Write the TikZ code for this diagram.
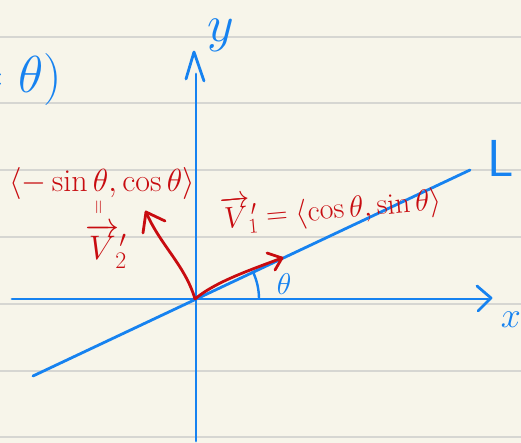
\RequirePackage{fix-cm}
\documentclass[tikz,border=0pt]{standalone}
\usepackage{fontspec}
\usepackage{amsmath}
\definecolor{paper}{RGB}{247,245,234}
\definecolor{rule}{RGB}{214,214,210}
\definecolor{inkblue}{RGB}{22,130,240}
\definecolor{inkred}{RGB}{200,12,16}
\begin{document}
\begin{tikzpicture}[x=1pt,y=-1pt,
  ruleline/.style={rule,line width=1.6pt},
  blueink/.style={inkblue,line width=2.8pt,line cap=round,line join=round},
  redink/.style={inkred,line width=2.8pt,line cap=round,line join=round},
  bluetext/.style={inkblue,inner sep=0pt},
  redtext/.style={inkred,inner sep=0pt}]
\fill[paper] (0,0) rectangle (521,443);
\useasboundingbox (0,0) rectangle (521,443);
% ruled lines
\foreach \yy in {37,103,170,237,304,371,437}
  \draw[ruleline] (0,\yy) -- (521,\yy);
% coordinates
\coordinate (O) at (195,299);
\coordinate (xL) at (12,299);
\coordinate (xR) at (488,299);
\coordinate (xT) at (491,298);
\coordinate (yB) at (196,441);
\coordinate (yT) at (196,74);
\coordinate (yTip) at (194,52);
\coordinate (LA) at (33,376);
\coordinate (LB) at (470,170);
\coordinate (v1) at (282,258);
\coordinate (v2) at (146,212);
% axes
\draw[blueink] (xL) -- (xR);
\draw[blueink] (477,286) -- (xT) -- (478,311);
\draw[blueink] (yB) -- (yT);
\draw[blueink] (186,79) -- (yTip) -- (204,81);
% line L
\draw[blueink] (LA) -- (LB);
% angle arc
\draw[inkblue,line width=2.4pt] (259,299) arc[start angle=0,end angle=-26,radius=64];
% vectors
\draw[redink] (O) .. controls (215,282) and (250,270) .. (v1);
\draw[redink] (267,253) -- (v1) -- (275,270);
\draw[redink] (O) .. controls (185,265) and (160,245) .. (v2);
\draw[redink] (143,233) -- (v2) -- (165,221);
% labels
\node[bluetext,font=\fontsize{52}{56}\selectfont] (ylab) at (221,35) {$y$};
\node[bluetext,font=\fontsize{36}{40}\selectfont] (xlab) at (511,320) {$x$};
\node[bluetext,font=\fontsize{52}{56}\selectfont,anchor=west] (Llab) at (487,158) {$\mathsf{L}$};
\node[bluetext,font=\fontsize{52}{56}\selectfont,anchor=east] (top) at (62,80) {$=\theta)$};
\node[bluetext,font=\fontsize{30}{32}\selectfont] (th) at (284,284) {$\theta$};
\node[redtext,font=\fontsize{32}{34}\selectfont] (v2comp) at (102,184) {$\langle -\sin\theta,\cos\theta\rangle$};
\node[redtext,font=\fontsize{20}{22}\selectfont,rotate=90] (eqr) at (100,207) {$=$};
\node[redtext,font=\fontsize{34}{36}\selectfont] (v2name) at (106,246) {$\overrightarrow{V}{}_{\!2}'$};
\node[redtext,font=\fontsize{30}{33}\selectfont,rotate=5] (v1name) at (331,207) {$\overrightarrow{V}{}_{\!1}'=\langle\cos\theta,\sin\theta\rangle$};
\end{tikzpicture}
\end{document}
